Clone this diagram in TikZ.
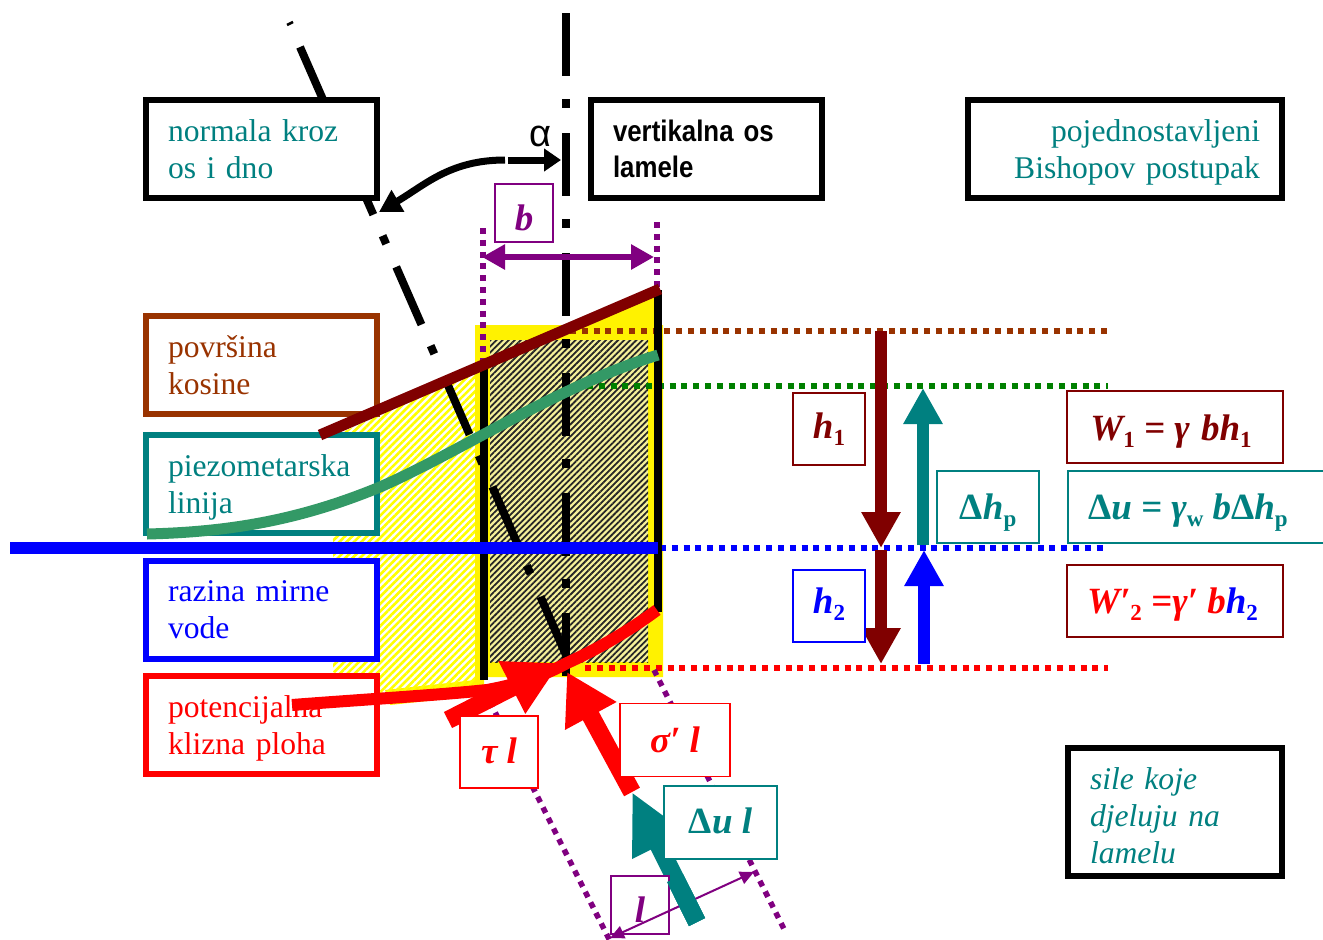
\documentclass[tikz,border=0pt]{standalone}
\usepackage{fontspec}
\setmainfont{Liberation Serif}
\newfontfamily\narbold[FakeStretch=0.87]{Liberation Sans Bold}
\newfontfamily\arialf{Liberation Sans}
\usetikzlibrary{arrows.meta,patterns.meta}
\definecolor{dred}{HTML}{800000}
\definecolor{rust}{HTML}{993300}
\definecolor{tealc}{HTML}{008080}
\definecolor{piezo}{HTML}{339966}
\definecolor{greenc}{HTML}{008000}
\definecolor{purp}{HTML}{800080}
\definecolor{paley}{HTML}{F6F19A}
\newcommand{\sbs}[1]{\raisebox{-0.2em}{\fontsize{23}{23}\selectfont\upshape #1}}
\newcommand{\dlt}{\textup{Δ}}
% lowers the text of a large box by #1 pt
\newcommand{\down}[1]{\rule{0pt}{\dimexpr 22pt+2\dimexpr #1pt\relax\relax}}
\tikzset{
  x=1pt,y=-1pt,
  bigbox/.style 2 args={draw=#2,line width=5.5pt,fill=white,minimum width=#1pt,minimum height=98pt,
    text width=#1pt-44pt,inner xsep=0pt,inner ysep=0pt,align=left,text=#2,
    font=\fontsize{31.6}{37}\selectfont},
  smallbox/.style 2 args={draw=#1,text=#1,line width=1.8pt,fill=white,minimum width=#2pt,minimum height=72pt,
    inner sep=0pt,font=\fontsize{37}{38}\selectfont\bfseries\itshape},
  off/.style={text height=25pt+#1pt,text depth=25pt-#1pt},
  dots/.style={line width=5.5pt,dash pattern=on 6pt off 5.8pt},
  fat/.style 2 args={line width=12pt,draw=#1,fill=#1,-{Triangle[length=#2pt,width=37pt,fill=#1]}},
  force/.style 2 args={line width=18pt,draw=#1,fill=#1,-{Triangle[length=#2pt,width=55pt,fill=#1]}},
  axisline/.style={line width=8pt,black,dash pattern=on 63pt off 23pt on 9pt off 25pt},
}
\begin{document}
\begin{tikzpicture}
\useasboundingbox (0,0) rectangle (1323,940);
\clip (0,0) rectangle (1323,940);
% yellow soil
\fill[yellow] (475,325) -- (590,325) -- (655,294) -- (655,325) -- (663,325) -- (663,677) -- (484,677) -- (484,695) -- (390,705) -- (385,690) -- (475,680) -- cycle;
\path[pattern={Lines[angle=45,distance=5.2pt,line width=2.6pt]},pattern color=yellow]
  (325,440) -- (475,372) -- (475,690) -- (390,700) -- (333,672) -- (333,540) -- cycle;
\fill[paley] (490,340) rectangle (648,662);
\path[pattern={Lines[angle=45,distance=4.3pt,line width=1.8pt]},pattern color=black!85]
  (490,340) rectangle (648,662);
% dotted levels
\draw[dots,rust] (570,331) -- (1108,331);
\draw[dots,greenc] (587,386) -- (1108,386);
\draw[dots,blue] (660,548) -- (1108,548);
\draw[dots,red] (585,668) -- (1108,668);
\draw[dots,purp] (483,228) -- (483,382);
\draw[dots,purp] (657,222) -- (657,305);
\draw[dots,purp] (654,670) -- (785,931);
\draw[dots,purp] (490,702) -- (610,941);
% axes
\draw[axisline] (566,13) -- (566,677);
\draw[axisline] (300,47) -- (566,655);
\draw[line width=2.5pt] (287,25) -- (293,22);
% slice sides
\draw[line width=8pt] (484,362) -- (484,680);
\draw[line width=8pt] (658,290) -- (658,612);
% large label boxes
\node[bigbox={231}{black},text=tealc] (normala) at (261.5,149) {\down{0.5}normala kroz\\os i dno};
\node[bigbox={231}{black},font=\fontsize{29.7}{36}\narbold] (vertikalna) at (706.5,149) {vertikalna os\\lamele};
\node[bigbox={314}{black},text=tealc,align=right] (bishop) at (1125,149) {\down{3.5}pojednostavljeni\\Bishopov postupak};
\node[bigbox={231}{rust}] (povrsina) at (261.5,365) {površina\\kosine};
\node[bigbox={231}{tealc}] (piezom) at (261.5,484) {\down{3}piezometarska\\linija};
\node[bigbox={231}{blue}] (razina) at (261.5,610) {razina mirne\\vode};
\node[bigbox={231}{red}] (klizna) at (261.5,725) {\down{3}potencijalna\\klizna ploha};
\node[bigbox={214}{black},text=tealc,minimum height=128pt,font=\fontsize{31.6}{37}\selectfont\itshape] (sile) at (1175,812) {\down{4}sile koje\\djeluju na\\lamelu};
% surfaces
\draw[dred,line width=11pt] (320,435) -- (660,289);
\draw[piezo,line width=11pt] (147,534) .. controls (230,532) and (300,520) .. (380,487)
  .. controls (460,452) and (560,385) .. (658,355);
\draw[blue,line width=12.5pt] (10,548) -- (658,548);
% level arrows
\draw[fat={dred}{36}] (881,331) -- (881,548);
\draw[fat={dred}{36}] (881,550) -- (881,664);
\draw[fat={tealc}{36}] (923,545) -- (923,388);
\draw[fat={blue}{36}] (924,664) -- (924,550);
% force arrows
\draw[force={tealc}{60}] (697,922) -- (632,792);
\draw[force={red}{50}] (632,792) -- (567,672);
\draw[red,line width=12pt] (292,705) .. controls (370,699) and (440,695) .. (487,690)
  .. controls (520,684) and (545,675) .. (567,663) .. controls (600,648) and (630,630) .. (657,610);
\draw[force={red}{54}] (448,720) -- (560,663);
% alpha arrow
\draw[line width=7pt,-{Triangle[length=17pt,width=22pt]}] (508,160) -- (561,160);
\draw[line width=7pt,-{Triangle[length=22pt,width=24pt]}] (505,160) .. controls (450,160) and (425,185) .. (379,212);
\node[font=\fontsize{38}{38}\arialf] (alpha) at (540,136) {α};
% width of the slice
\node[smallbox={purp}{58},minimum height=58pt,off=17] (bbox) at (524,213) {b};
\draw[purp,line width=6.5pt,{Triangle[length=23pt,width=24pt]}-{Triangle[length=23pt,width=24pt]}] (482,257) -- (654,257);
% small label boxes
\node[smallbox={dred}{72},off=9] (h1) at (829,429) {h\sbs{1}};
\node[smallbox={blue}{72},off=7] (h2) at (829,606) {h\sbs{2}};
\node[smallbox={tealc}{102},off=12] (dhp) at (988,507) {\dlt h\sbs{p}};
\node[smallbox={dred}{216},off=13] (w1) at (1175,427) {\hspace*{-8pt}W\sbs{1} = γ\hspace{2pt} bh\sbs{1}};
\node[smallbox={tealc}{270},anchor=west,off=12] (du) at (1067,507) {\hspace*{-30pt}\dlt u = γ\sbs{w} b\dlt h\sbs{p}};
\node[smallbox={dred}{216},off=12] (w2) at (1175,601) {\hspace*{-5pt}\textcolor{red}{W′\sbs{2} =γ′ b}\textcolor{blue}{h\sbs{2}}};
\node[smallbox={red}{78},off=11] (taul) at (499,752) {τ l};
\node[smallbox={red}{110},minimum height=73pt,off=12] (sigl) at (675,740) {σ′ l};
\node[smallbox={tealc}{113},minimum height=73pt,off=11] (dul) at (720.5,822.5) {\dlt u l};
\node[smallbox={purp}{58},minimum height=58pt,off=17] (lbox) at (640,905) {l};
% the force passes over the l box
\draw[tealc,line width=18pt] (697,922) -- (682,892);
\draw[purp,line width=2pt,{Triangle[length=14pt,width=13pt]}-{Triangle[length=14pt,width=13pt]}] (610,938) -- (754,872);
\draw[tealc,line width=18pt] (697,922) -- (675,878);
\end{tikzpicture}
\end{document}
